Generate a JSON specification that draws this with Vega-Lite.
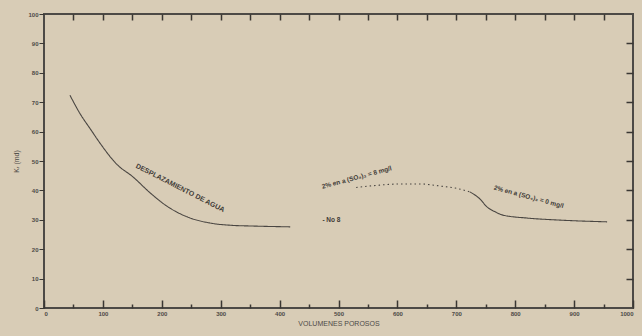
{
  "$schema": "https://vega.github.io/schema/vega-lite/v6.json",
  "width": 589,
  "height": 294,
  "autosize": "none",
  "padding": {"left": 44, "top": 14, "right": 9, "bottom": 28},
  "background": "#d8ccb6",
  "config": {
    "view": {"stroke": "#4d4a46", "strokeWidth": 2},
    "font": "Liberation Sans",
    "axis": {
      "domain": false,
      "grid": false,
      "ticks": true,
      "tickColor": "#3a3733",
      "tickWidth": 1.5,
      "labelColor": "#4d4a46",
      "labelFont": "Liberation Sans",
      "labelFontSize": 6,
      "labelFontWeight": "bold",
      "titleColor": "#4d4a46",
      "titleFont": "Liberation Sans",
      "titleFontSize": 7,
      "titleFontWeight": "normal"
    }
  },
  "datasets": {
    "curves": [
      {"pv": 44, "k": 72.4, "seg": "agua", "style": "solid"},
      {"pv": 60, "k": 66.5, "seg": "agua", "style": "solid"},
      {"pv": 80, "k": 60.5, "seg": "agua", "style": "solid"},
      {"pv": 95, "k": 56.1, "seg": "agua", "style": "solid"},
      {"pv": 124, "k": 48.8, "seg": "agua", "style": "solid"},
      {"pv": 151, "k": 44.6, "seg": "agua", "style": "solid"},
      {"pv": 180, "k": 39.2, "seg": "agua", "style": "solid"},
      {"pv": 209, "k": 34.6, "seg": "agua", "style": "solid"},
      {"pv": 243, "k": 31.0, "seg": "agua", "style": "solid"},
      {"pv": 282, "k": 28.9, "seg": "agua", "style": "solid"},
      {"pv": 320, "k": 28.1, "seg": "agua", "style": "solid"},
      {"pv": 350, "k": 27.9, "seg": "agua", "style": "solid"},
      {"pv": 418, "k": 27.6, "seg": "agua", "style": "solid"},
      {"pv": 530, "k": 41.0, "seg": "sulf8", "style": "dotted"},
      {"pv": 570, "k": 41.8, "seg": "sulf8", "style": "dotted"},
      {"pv": 604, "k": 42.2, "seg": "sulf8", "style": "dotted"},
      {"pv": 638, "k": 42.2, "seg": "sulf8", "style": "dotted"},
      {"pv": 672, "k": 41.5, "seg": "sulf8", "style": "dotted"},
      {"pv": 698, "k": 40.8, "seg": "sulf8", "style": "dotted"},
      {"pv": 723, "k": 39.5, "seg": "sulf8", "style": "dotted"},
      {"pv": 723, "k": 39.5, "seg": "sulf0", "style": "solid"},
      {"pv": 740, "k": 37.1, "seg": "sulf0", "style": "solid"},
      {"pv": 752, "k": 34.4, "seg": "sulf0", "style": "solid"},
      {"pv": 766, "k": 32.7, "seg": "sulf0", "style": "solid"},
      {"pv": 779, "k": 31.6, "seg": "sulf0", "style": "solid"},
      {"pv": 820, "k": 30.6, "seg": "sulf0", "style": "solid"},
      {"pv": 876, "k": 29.9, "seg": "sulf0", "style": "solid"},
      {"pv": 956, "k": 29.3, "seg": "sulf0", "style": "solid"}
    ],
    "lab1": [{"pv": 231, "k": 40.8, "t": "DESPLAZAMIENTO DE AGUA"}],
    "lab2": [{"pv": 531, "k": 44.4, "t": "2% en a (SO₄)₃ = 8 mg/l"}],
    "lab3": [{"pv": 823, "k": 37.8, "t": "2% en a (SO₄)₃ = 0 mg/l"}],
    "lab4": [{"pv": 488, "k": 29.8, "t": "-    No 8"}]
  },
  "layer": [
    {
      "data": {"name": "curves"},
      "mark": {"type": "line", "color": "#4a4642", "strokeWidth": 1.1, "interpolate": "monotone"},
      "encoding": {
        "x": {
          "field": "pv", "type": "quantitative",
          "scale": {"domain": [0, 1000], "nice": false},
          "axis": {
            "orient": "bottom",
            "values": [0, 100, 200, 300, 400, 500, 600, 700, 800, 900, 1000],
            "format": "d",
            "offset": -8,
            "tickSize": 8,
            "labelPadding": 2,
            "title": "VOLUMENES POROSOS",
            "titlePadding": 3
          }
        },
        "y": {
          "field": "k", "type": "quantitative",
          "scale": {"domain": [0, 100], "nice": false},
          "axis": {
            "orient": "left",
            "values": [0, 10, 20, 30, 40, 50, 60, 70, 80, 90, 100],
            "format": "d",
            "tickSize": 5,
            "tickWidth": 1,
            "labelPadding": 1,
            "title": "Kᵣ (md)",
            "titlePadding": 8
          }
        },
        "detail": {"field": "seg"},
        "strokeDash": {
          "field": "style", "type": "nominal",
          "scale": {"domain": ["solid", "dotted"], "range": [[1, 0], [1.5, 3]]},
          "legend": null
        }
      }
    },
    {
      "data": {"name": "lab1"},
      "mark": {"type": "text", "angle": 27, "fontSize": 7, "fontWeight": "bold", "color": "#3f3b37"},
      "encoding": {
        "x": {
          "field": "pv", "type": "quantitative",
          "axis": {"orient": "top", "values": [50, 100, 150, 200, 250, 300, 350, 400, 450, 500, 550, 600, 650, 700, 750, 800, 850, 900, 950], "offset": -6, "tickSize": 6, "labelOpacity": 0, "title": null}
        },
        "y": {
          "field": "k", "type": "quantitative",
          "axis": {"orient": "right", "values": [10, 20, 30, 40, 50, 60, 70, 80, 90], "offset": -7, "tickSize": 7, "labelOpacity": 0, "title": null}
        },
        "text": {"field": "t"}
      }
    },
    {
      "data": {"name": "lab2"},
      "mark": {"type": "text", "angle": -15, "fontSize": 6.5, "fontWeight": "bold", "color": "#3f3b37"},
      "encoding": {
        "x": {
          "field": "pv", "type": "quantitative",
          "axis": {"orient": "bottom", "values": [50, 150, 250, 350, 450, 550, 650, 750, 850, 950], "offset": -4, "tickSize": 4, "labelOpacity": 0, "title": null}
        },
        "y": {"field": "k", "type": "quantitative", "axis": null},
        "text": {"field": "t"}
      }
    },
    {
      "data": {"name": "lab3"},
      "mark": {"type": "text", "angle": 15, "fontSize": 6.5, "fontWeight": "bold", "color": "#3f3b37"},
      "encoding": {
        "x": {"field": "pv", "type": "quantitative", "axis": null},
        "y": {"field": "k", "type": "quantitative", "axis": null},
        "text": {"field": "t"}
      }
    },
    {
      "data": {"name": "lab4"},
      "mark": {"type": "text", "fontSize": 6.5, "fontWeight": "bold", "color": "#3f3b37"},
      "encoding": {
        "x": {"field": "pv", "type": "quantitative", "axis": null},
        "y": {"field": "k", "type": "quantitative", "axis": null},
        "text": {"field": "t"}
      }
    }
  ],
  "resolve": {"axis": {"x": "independent", "y": "independent"}}
}
